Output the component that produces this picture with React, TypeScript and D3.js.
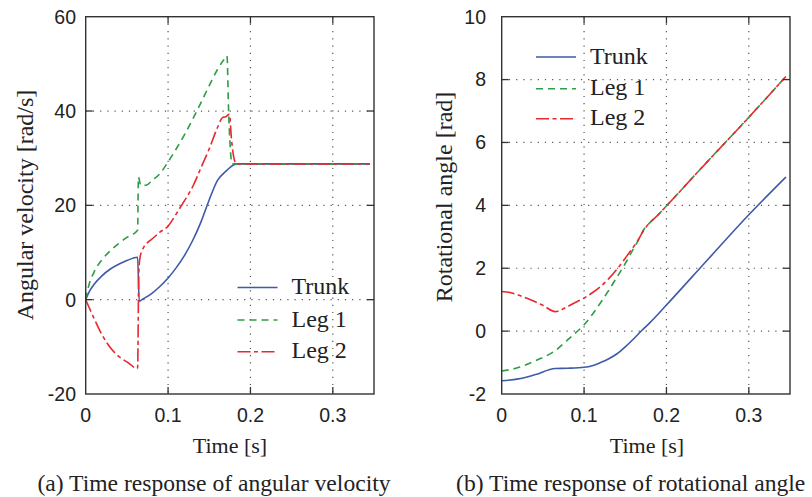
import React from "react";
import * as d3 from "d3";

// ---------- Data ----------
const xTicks = [0, 0.1, 0.2, 0.3];
const velTicks = [-20, 0, 20, 40, 60];
const angTicks = [-2, 0, 2, 4, 6, 8, 10];
const seriesNames = ["Trunk", "Leg 1", "Leg 2"];

// Angular velocity [rad/s]
const velTrunkT = [0, 0.005, 0.01, 0.02, 0.03, 0.04, 0.05, 0.063, 0.065, 0.07, 0.08, 0.09, 0.1, 0.11, 0.12, 0.13, 0.14, 0.15, 0.16, 0.17, 0.175, 0.183, 0.345];
const velTrunkV = [0, 1.9, 3.2, 5.1, 6.5, 7.5, 8.3, 9.0, -0.3, 0.2, 1.3, 2.8, 4.6, 6.8, 9.4, 12.6, 16.5, 21.2, 25.3, 27.2, 28.0, 28.8, 28.8];

const velLeg1T = [0, 0.003, 0.01, 0.02, 0.03, 0.04, 0.05, 0.063, 0.064, 0.067, 0.074, 0.08, 0.09, 0.1, 0.11, 0.12, 0.13, 0.14, 0.15, 0.16, 0.167, 0.1715, 0.1735, 0.1765, 0.178, 0.345];
const velLeg1V = [0, 2.5, 5.8, 8.5, 10.4, 11.9, 13.2, 14.7, 26, 24.2, 24.3, 25.2, 26.7, 29.2, 32, 35, 38.3, 41.8, 45.4, 48.8, 50.7, 51.7, 40, 30, 28.8, 28.8];

const velLeg2T = [0, 0.005, 0.01, 0.02, 0.03, 0.04, 0.05, 0.063, 0.0645, 0.066, 0.069, 0.075, 0.08, 0.09, 0.1, 0.11, 0.115, 0.12, 0.13, 0.14, 0.15, 0.16, 0.166, 0.17, 0.1745, 0.177, 0.18, 0.183, 0.345];
const velLeg2V = [0, -2, -3.9, -7.5, -10.2, -12, -13.2, -14.6, 6, 9, 10.6, 12.1, 12.8, 14.3, 15.6, 18.2, 19.6, 21, 24, 28, 32, 36.5, 38.6, 38.8, 39.3, 34, 30, 28.8, 28.8];

// Rotational angle [rad]
const angTrunkT = [0, 0.02, 0.04, 0.065, 0.08, 0.1, 0.11, 0.12, 0.13, 0.14, 0.15, 0.16, 0.17, 0.18, 0.2, 0.25, 0.3, 0.345];
const angTrunkV = [-1.58, -1.52, -1.39, -1.19, -1.18, -1.15, -1.1, -1.0, -0.88, -0.72, -0.5, -0.25, 0.02, 0.27, 0.83, 2.27, 3.7, 4.9];

const angLeg1T = [0, 0.02, 0.04, 0.065, 0.08, 0.09, 0.1, 0.11, 0.12, 0.13, 0.14, 0.15, 0.16, 0.165, 0.17, 0.175, 0.18, 0.19, 0.2, 0.25, 0.3, 0.345];
const angLeg1V = [-1.27, -1.16, -0.95, -0.62, -0.28, -0.05, 0.2, 0.53, 0.9, 1.3, 1.72, 2.15, 2.62, 2.85, 3.12, 3.32, 3.45, 3.7, 3.98, 5.4, 6.8, 8.1];

const angLeg2T = [0, 0.01, 0.02, 0.03, 0.04, 0.05, 0.065, 0.08, 0.09, 0.1, 0.11, 0.12, 0.13, 0.14, 0.15, 0.16, 0.165, 0.17, 0.175, 0.18, 0.19, 0.2, 0.25, 0.3, 0.345];
const angLeg2V = [1.26, 1.23, 1.15, 1.05, 0.94, 0.82, 0.62, 0.78, 0.92, 1.05, 1.22, 1.42, 1.67, 1.97, 2.32, 2.68, 2.87, 3.1, 3.3, 3.45, 3.7, 3.98, 5.4, 6.8, 8.1];

// ---------- Styles ----------
const colors = ["#3d5aa9", "#2f9c46", "#e8292f"];
const dashes = ["none", "7,5", "13,3.5,4,3.5"];
const SERIF = "'Liberation Serif', 'Times New Roman', serif";
const SANS = "'Liberation Sans', Arial, Helvetica, sans-serif";

type Series = { t: number[]; v: number[] };

function Panel(props: {
  left: number; right: number; top: number; bottom: number;
  yDomain: [number, number]; yTicks: number[]; series: Series[];
  yLabel: string; yLabelX: number; yLabelY: number; tickRight: number;
  legendX: number; legendYs: number[]; caption: string; captionX: number; xLabelX: number;
}) {
  const { left, right, top, bottom } = props;
  const x = d3.scaleLinear().domain([0, 0.35]).range([left, right]);
  const y = d3.scaleLinear().domain(props.yDomain).range([bottom, top]);
  const line = d3.line<[number, number]>().x((d) => x(d[0])).y((d) => y(d[1])).curve(d3.curveMonotoneX);
  const gridStyle = { stroke: "#555", strokeWidth: 1.2, strokeDasharray: "1.2,6" };
  const frame = "#333";
  const tl = 7;
  return (
    <g>
      {xTicks.filter((t) => t > 0).map((t) => (
        <line key={"gx" + t} x1={x(t)} x2={x(t)} y1={top} y2={bottom} {...gridStyle} />
      ))}
      {props.yTicks.filter((t) => t > props.yDomain[0] && t < props.yDomain[1]).map((t) => (
        <line key={"gy" + t} x1={left} x2={right} y1={y(t)} y2={y(t)} {...gridStyle} />
      ))}
      {props.series.map((s, i) => (
        <path key={"s" + i} d={line(s.t.map((t, k) => [t, s.v[k]] as [number, number])) || ""}
          fill="none" stroke={colors[i]} strokeWidth={1.6} strokeDasharray={dashes[i]} />
      ))}
      <rect x={left} y={top} width={right - left} height={bottom - top} fill="none" stroke={frame} strokeWidth={1.4} />
      {xTicks.filter((t) => t > 0).map((t) => (
        <g key={"tx" + t}>
          <line x1={x(t)} x2={x(t)} y1={bottom} y2={bottom - tl} stroke={frame} strokeWidth={1.3} />
          <line x1={x(t)} x2={x(t)} y1={top} y2={top + tl} stroke={frame} strokeWidth={1.3} />
        </g>
      ))}
      {props.yTicks.filter((t) => t > props.yDomain[0] && t < props.yDomain[1]).map((t) => (
        <g key={"ty" + t}>
          <line x1={left} x2={left + tl} y1={y(t)} y2={y(t)} stroke={frame} strokeWidth={1.3} />
          <line x1={right} x2={right - tl} y1={y(t)} y2={y(t)} stroke={frame} strokeWidth={1.3} />
        </g>
      ))}
      {xTicks.map((t) => (
        <text key={"lx" + t} x={x(t)} y={422} textAnchor="middle" fontFamily={SANS} fontSize={19.5} fill="#222">{String(t)}</text>
      ))}
      {props.yTicks.map((t) => (
        <text key={"ly" + t} x={props.tickRight} y={y(t)} dy="0.35em" textAnchor="end" fontFamily={SANS} fontSize={19.5} fill="#222">{String(t)}</text>
      ))}
      <text x={props.xLabelX} y={453} textAnchor="middle" fontFamily={SERIF} fontSize={22} fill="#222">Time [s]</text>
      <text transform={`translate(${props.yLabelX},${props.yLabelY}) rotate(-90)`} textAnchor="middle" fontFamily={SERIF} fontSize={24} fill="#222">{props.yLabel}</text>
      {seriesNames.map((n, i) => (
        <g key={"lg" + i}>
          <line x1={props.legendX} x2={props.legendX + 40} y1={props.legendYs[i]} y2={props.legendYs[i]}
            stroke={colors[i]} strokeWidth={1.6} strokeDasharray={dashes[i]} />
          <text x={props.legendX + 54} y={props.legendYs[i] + 6.5} fontFamily={SERIF} fontSize={24} fill="#222">{n}</text>
        </g>
      ))}
      <text x={props.captionX} y={490.5} textAnchor="middle" fontFamily={SERIF} fontSize={23.6} fill="#222">{props.caption}</text>
    </g>
  );
}

export default function App() {
  return (
    <svg width={812} height={497} style={{ position: "absolute", left: 0, top: 0, background: "#fff" }}>
      <rect width={812} height={497} fill="#fff" />
      <Panel left={85.7} right={374} top={16.7} bottom={394} yDomain={[-20, 60]} yTicks={velTicks}
        series={[{ t: velTrunkT, v: velTrunkV }, { t: velLeg1T, v: velLeg1V }, { t: velLeg2T, v: velLeg2V }]}
        yLabel="Angular velocity [rad/s]" yLabelX={33} yLabelY={205} tickRight={76}
        legendX={237.5} legendYs={[287.5, 320, 351.7]} caption="(a) Time response of angular velocity" captionX={214} xLabelX={230} />
      <Panel left={501.7} right={790} top={16.7} bottom={394} yDomain={[-2, 10]} yTicks={angTicks}
        series={[{ t: angTrunkT, v: angTrunkV }, { t: angLeg1T, v: angLeg1V }, { t: angLeg2T, v: angLeg2V }]}
        yLabel="Rotational angle [rad]" yLabelX={452} yLabelY={197} tickRight={486}
        legendX={536} legendYs={[57, 88.7, 118.7]} caption="(b) Time response of rotational angle" captionX={630.7} xLabelX={647} />
    </svg>
  );
}
